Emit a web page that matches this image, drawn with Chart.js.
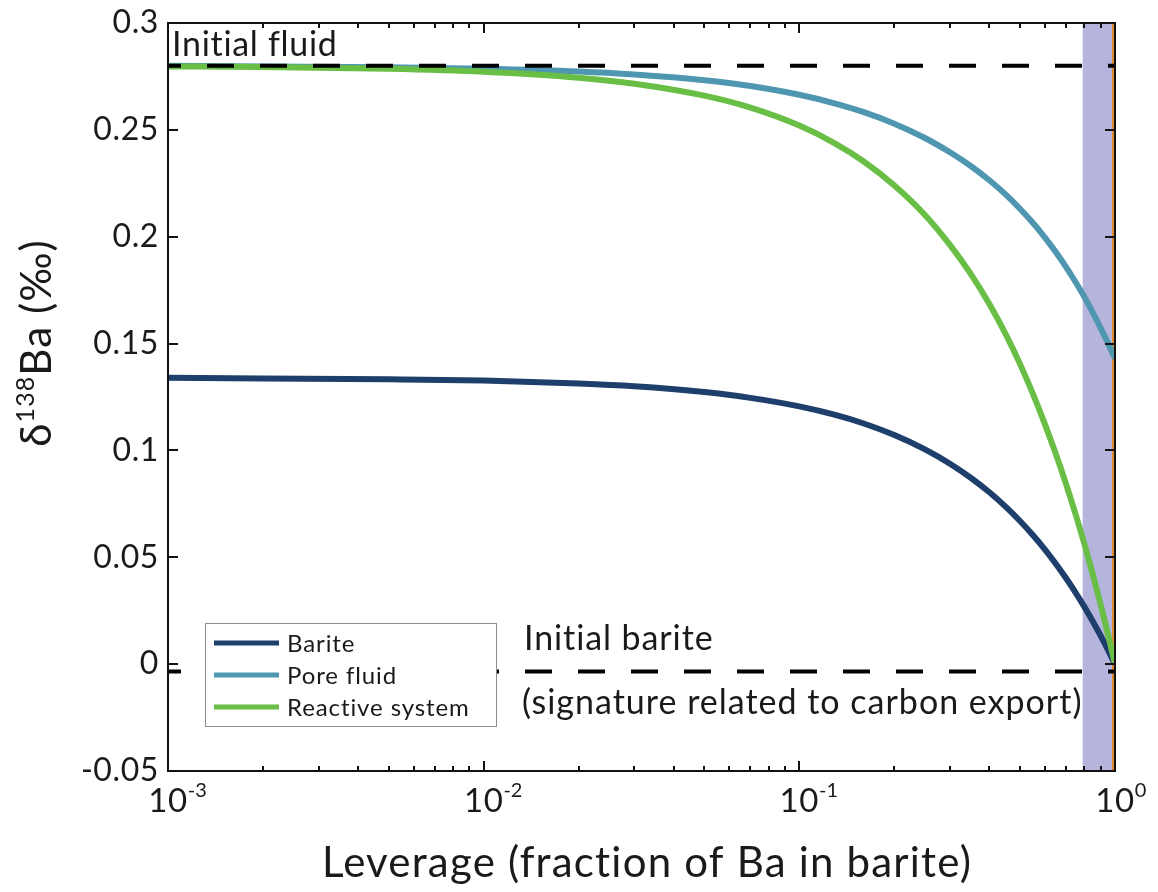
<!DOCTYPE html>
<html>
<head>
<meta charset="utf-8">
<title>Ba isotope leverage</title>
<script src="https://cdn.jsdelivr.net/npm/chart.js@4.4.0/dist/chart.umd.min.js"></script>
<style>
  html, body { margin: 0; padding: 0; background: #fff; }
  #wrap { width: 1158px; height: 892px; }
</style>
</head>
<body>
<div id="wrap"><canvas id="baChart" width="1158" height="892"></canvas></div>
<script>
// leverage = fraction of Ba held in barite
const leverage = [0.001, 0.002, 0.005, 0.01, 0.02, 0.03, 0.05, 0.07, 0.1, 0.13,
                  0.16, 0.2, 0.25, 0.3, 0.35, 0.4, 0.45, 0.5, 0.55, 0.6,
                  0.65, 0.7, 0.75, 0.8, 0.85, 0.9, 0.95, 1.0];
const barite = [0.134, 0.1337, 0.1333, 0.1327, 0.1313, 0.13, 0.1273, 0.1246, 0.1206, 0.1166,
                0.1126, 0.1072, 0.1005, 0.0938, 0.0871, 0.0804, 0.0737, 0.067, 0.0603, 0.0536,
                0.0469, 0.0402, 0.0335, 0.0268, 0.0201, 0.0134, 0.0067, 0.0];
const poreFluid = [0.28, 0.2797, 0.2793, 0.2786, 0.2773, 0.2759, 0.2732, 0.2705, 0.2664, 0.2623,
                   0.2583, 0.2529, 0.2462, 0.2395, 0.233, 0.2264, 0.2198, 0.2131, 0.2064, 0.1996,
                   0.1927, 0.1858, 0.1788, 0.1718, 0.1646, 0.1573, 0.1502, 0.143];
const reactive = [0.2797, 0.2794, 0.2786, 0.2772, 0.2744, 0.2716, 0.266, 0.2604, 0.252, 0.2436,
                  0.2352, 0.224, 0.2102, 0.1962, 0.1824, 0.1685, 0.1545, 0.1405, 0.1263, 0.1122,
                  0.0982, 0.0842, 0.0702, 0.0562, 0.0421, 0.0281, 0.014, 0.0];

const initialFluid = 0.28;
const initialBarite = -0.0035;
const bandRange = [0.79, 1.0];

const yTicks = [-0.05, 0, 0.05, 0.1, 0.15, 0.2, 0.25, 0.3];
const yTickLabels = ['-0.05', '0', '0.05', '0.1', '0.15', '0.2', '0.25', '0.3'];
const xTicks = [0.001, 0.01, 0.1, 1];
const xTickExp = ['-3', '-2', '-1', '0'];

const seriesNames = ['Barite', 'Pore fluid', 'Reactive system'];
const seriesColors = ['#1e3f6b', '#4f97b1', '#69be45'];

const FONT = 'Lato, "Open Sans", sans-serif';
const TXT = '#1a1a1a';

function pts(ys) {
  return leverage.map((x, i) => ({ x: x, y: ys[i] }));
}

function spacing(ctx, px) {
  if ('letterSpacing' in ctx) ctx.letterSpacing = px + 'px';
}

// shaded band, axes frame, inward ticks, labels and legend
const decorPlugin = {
  id: 'decor',
  beforeDatasetsDraw(chart) {
    const { ctx, chartArea: a, scales: { x } } = chart;
    const x0 = x.getPixelForValue(bandRange[0]);
    const x1 = x.getPixelForValue(bandRange[1]);
    ctx.save();
    ctx.fillStyle = '#b4b4dc';
    ctx.fillRect(x0, a.top, x1 - x0, a.bottom - a.top);
    ctx.restore();
  },
  afterDatasetsDraw(chart) {
    const { ctx, chartArea: a, scales: { x, y } } = chart;
    ctx.save();

    // legend
    const lg = { l: 205, t: 623, w: 291, h: 103 };
    ctx.fillStyle = '#fff';
    ctx.fillRect(lg.l, lg.t, lg.w, lg.h);
    ctx.strokeStyle = '#8c8c8c';
    ctx.lineWidth = 1;
    ctx.strokeRect(lg.l + 0.5, lg.t + 0.5, lg.w, lg.h);
    ctx.font = '24px ' + FONT;
    spacing(ctx, 0.9);
    ctx.textBaseline = 'middle';
    ctx.textAlign = 'left';
    seriesNames.forEach((name, i) => {
      const yy = 643 + i * 32;
      ctx.strokeStyle = seriesColors[i];
      ctx.lineWidth = 5;
      ctx.beginPath();
      ctx.moveTo(214, yy);
      ctx.lineTo(279, yy);
      ctx.stroke();
      ctx.fillStyle = TXT;
      ctx.fillText(name, 287, yy + 1);
    });

    // frame
    ctx.strokeStyle = '#111';
    ctx.lineWidth = 2;
    ctx.strokeRect(a.left, a.top, a.right - a.left, a.bottom - a.top);

    // y ticks, both sides, pointing in
    ctx.beginPath();
    yTicks.forEach(v => {
      const py = Math.round(y.getPixelForValue(v));
      ctx.moveTo(a.left, py); ctx.lineTo(a.left + 10, py);
      ctx.moveTo(a.right, py); ctx.lineTo(a.right - 10, py);
    });
    // x ticks (log decades and minors), top and bottom
    for (let d = -3; d < 0; d++) {
      for (let m = 1; m <= 9; m++) {
        const px = Math.round(x.getPixelForValue(m * Math.pow(10, d)));
        const len = m === 1 ? 10 : 5;
        ctx.moveTo(px, a.bottom); ctx.lineTo(px, a.bottom - len);
        ctx.moveTo(px, a.top); ctx.lineTo(px, a.top + len);
      }
    }
    ctx.stroke();

    // y tick labels
    ctx.fillStyle = TXT;
    ctx.font = '32px ' + FONT;
    spacing(ctx, 0.6);
    ctx.textAlign = 'right';
    ctx.textBaseline = 'middle';
    yTicks.forEach((v, i) => {
      ctx.fillText(yTickLabels[i], 159, y.getPixelForValue(v));
    });

    // x tick labels 10^n
    xTicks.forEach((v, i) => {
      const px = x.getPixelForValue(v);
      ctx.font = '33px ' + FONT;
      spacing(ctx, 0.6);
      ctx.textAlign = 'center';
      ctx.textBaseline = 'alphabetic';
      const w = ctx.measureText('10').width;
      ctx.fillText('10', px, 812);
      ctx.font = '20px ' + FONT;
      spacing(ctx, 0);
      ctx.textAlign = 'left';
      ctx.fillText(xTickExp[i], px + w / 2, 797);
    });

    // annotations
    ctx.font = '34px ' + FONT;
    ctx.textAlign = 'left';
    ctx.textBaseline = 'alphabetic';
    spacing(ctx, 0.7);
    ctx.fillText('Initial fluid', 172, 56);
    spacing(ctx, 0.9);
    ctx.fillText('Initial barite', 524, 650);
    spacing(ctx, 1.0);
    ctx.fillText('(signature related to carbon export)', 522, 714);

    // x title
    ctx.font = '42px ' + FONT;
    spacing(ctx, 1.2);
    ctx.textAlign = 'center';
    ctx.fillText('Leverage (fraction of Ba in barite)', 647, 877);

    // y title: δ138Ba (‰), rotated
    ctx.translate(51, 343);
    ctx.rotate(-Math.PI / 2);
    const big = '42px ' + FONT, small = '25px ' + FONT;
    spacing(ctx, 1.1);
    ctx.font = big;
    const w1 = ctx.measureText('δ').width;
    const w3 = ctx.measureText('Ba (‰)').width;
    ctx.font = small;
    const w2 = ctx.measureText('138').width;
    let cx = -(w1 + w2 + w3) / 2;
    ctx.textAlign = 'left';
    ctx.font = big;
    ctx.fillText('δ', cx, 0);
    cx += w1;
    ctx.font = small;
    ctx.fillText('138', cx, -17);
    cx += w2;
    ctx.font = big;
    ctx.fillText('Ba (‰)', cx, 0);

    ctx.restore();
  }
};

const ctx = document.getElementById('baChart').getContext('2d');
const chart = new Chart(ctx, {
  type: 'line',
  data: {
    datasets: [
      {
        label: 'Initial fluid',
        data: [{ x: 0.001, y: initialFluid }, { x: 1, y: initialFluid }],
        borderColor: '#000',
        borderWidth: 4,
        borderDash: [27, 26],
        borderDashOffset: 14,
        pointRadius: 0,
        order: 0
      },
      {
        label: 'Initial barite',
        data: [{ x: 0.001, y: initialBarite }, { x: 1, y: initialBarite }],
        borderColor: '#000',
        borderWidth: 4,
        borderDash: [27, 26],
        borderDashOffset: 14,
        pointRadius: 0,
        order: 0
      },
      {
        label: seriesNames[2],
        data: pts(reactive),
        borderColor: seriesColors[2],
        borderWidth: 6,
        pointRadius: 0,
        cubicInterpolationMode: 'monotone',
        order: 1
      },
      {
        label: seriesNames[1],
        data: pts(poreFluid),
        borderColor: seriesColors[1],
        borderWidth: 6,
        pointRadius: 0,
        cubicInterpolationMode: 'monotone',
        order: 2
      },
      {
        label: seriesNames[0],
        data: pts(barite),
        borderColor: seriesColors[0],
        borderWidth: 6,
        pointRadius: 0,
        cubicInterpolationMode: 'monotone',
        order: 3
      },
      {
        label: 'f = 1',
        data: [{ x: 1, y: -0.05 }, { x: 1, y: 0.3 }],
        borderColor: '#dd8a2e',
        borderWidth: 6,
        pointRadius: 0,
        clip: 0,
        order: 4
      }
    ]
  },
  options: {
    responsive: false,
    animation: false,
    devicePixelRatio: 1,
    layout: { padding: { left: 168, right: 43, top: 23, bottom: 121 } },
    scales: {
      x: { type: 'logarithmic', min: 0.001, max: 1, display: false },
      y: { type: 'linear', min: -0.05, max: 0.3, display: false }
    },
    plugins: {
      legend: { display: false },
      tooltip: { enabled: false }
    }
  },
  plugins: [decorPlugin]
});
</script>
</body>
</html>
